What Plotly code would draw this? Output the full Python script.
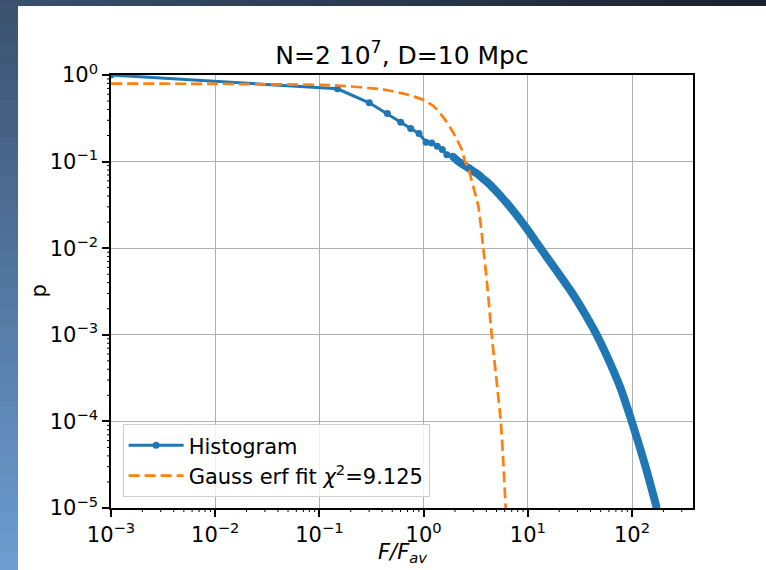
import math
import plotly.graph_objects as go

# Complementary cumulative distribution of F/F_av (binned histogram)
hist_x = [0.001, 0.149, 0.301, 0.449, 0.603, 0.751, 0.903, 1.055, 1.196, 1.353, 1.51, 1.67,
          1.90, 2.15, 2.40, 2.69, 3.00, 3.35, 3.74, 4.09, 5.41, 7.26, 10.0, 13.1, 17.6,
          22.8, 27.4, 36.7, 45.8, 57.1, 76.7, 99.3, 133.0, 172.6]
hist_p = [1.0, 0.692, 0.477, 0.359, 0.285, 0.241, 0.211, 0.167, 0.164, 0.150, 0.138, 0.120,
          0.115, 0.1007, 0.092, 0.0846, 0.0773, 0.0708, 0.063, 0.0577, 0.0407, 0.0269, 0.0162, 0.0102, 0.00617,
          0.00398, 0.00288, 0.00162, 0.0010, 5.75e-4, 2.51e-4, 1.0e-4, 3.16e-5, 1.0e-5]

# Gaussian erf fit
fit_x = [0.001, 0.01, 0.1, 0.149, 0.41, 0.69, 1.0, 1.25, 1.56, 1.93, 2.32, 2.50, 2.69, 2.90,
         3.35, 3.74, 4.09, 4.50, 5.50, 5.82, 6.13]
fit_p = [0.795, 0.79, 0.77, 0.756, 0.68, 0.595, 0.515, 0.436, 0.32, 0.215, 0.138, 0.10, 0.0846, 0.0592,
         0.0304, 0.01, 0.0036, 1.0e-3, 1.0e-4, 3.3e-5, 1.0e-5]

x_ticks = [1e-3, 1e-2, 1e-1, 1e0, 1e1, 1e2]
x_labels = ["10<sup>\u22123</sup>", "10<sup>\u22122</sup>", "10<sup>\u22121</sup>",
            "10<sup>0</sup>", "10<sup>1</sup>", "10<sup>2</sup>"]
y_ticks = [1e-5, 1e-4, 1e-3, 1e-2, 1e-1, 1e0]
y_labels = ["10<sup>\u22125</sup>", "10<sup>\u22124</sup>", "10<sup>\u22123</sup>",
            "10<sup>\u22122</sup>", "10<sup>\u22121</sup>", "10<sup>0</sup>"]

X_RANGE = [-3, 2.585]
Y_RANGE = [-5, 0]

BLUE = "#1f77b4"
ORANGE = "#ff7f0e"
FONT = "DejaVu Sans"

W, H = 766, 570
L, R, T, B = 111, 73, 75, 62
PW, PH = W - L - R, H - T - B


def px_to_paper(px, py):
    return (px - L) / PW, (H - B - py) / PH


def minor_positions(lo_exp, hi_exp):
    return [m * 10.0 ** e for e in range(lo_exp, hi_exp) for m in range(2, 10)]


fig = go.Figure()

# densely packed bins form a continuous band
dense = [(x, p) for x, p in zip(hist_x, hist_p) if x >= 1.9]
fig.add_trace(go.Scatter(
    x=[d[0] for d in dense], y=[d[1] for d in dense], mode="lines",
    line=dict(color=BLUE, width=8, shape="spline", smoothing=0.8),
    showlegend=False, hoverinfo="skip"))

fig.add_trace(go.Scatter(
    x=hist_x, y=hist_p, mode="lines+markers", name="Histogram",
    line=dict(color=BLUE, width=3), marker=dict(color=BLUE, size=7)))

fig.add_trace(go.Scatter(
    x=fit_x, y=fit_p, mode="lines", name="Gauss erf fit <i>\u03c7</i><sup>2</sup>=9.125",
    line=dict(color=ORANGE, width=2.7, dash="11px,5px", shape="spline", smoothing=0.6)))

axis_common = dict(
    type="log", ticks="outside", ticklen=7, tickwidth=1.5, tickcolor="black",
    showline=True, linecolor="black", linewidth=1.5, mirror=True,
    showgrid=True, gridcolor="#b0b0b0", gridwidth=1.3, zeroline=False,
    tickfont=dict(family=FONT, size=21, color="black"),
)
fig.update_xaxes(range=X_RANGE, tickvals=x_ticks, ticktext=x_labels, **axis_common)
fig.update_yaxes(range=Y_RANGE, tickvals=y_ticks, ticktext=y_labels, **axis_common)

shapes = []

# minor log ticks on the bottom and left axes
MINOR_LEN = 4
for v in minor_positions(-3, 3):
    lv = math.log10(v)
    if X_RANGE[0] < lv < X_RANGE[1]:
        xp = (lv - X_RANGE[0]) / (X_RANGE[1] - X_RANGE[0])
        shapes.append(dict(type="line", xref="paper", yref="paper", x0=xp, x1=xp,
                           y0=0, y1=-MINOR_LEN / PH, line=dict(color="black", width=1)))
for v in minor_positions(-5, 0):
    lv = math.log10(v)
    yp = (lv - Y_RANGE[0]) / (Y_RANGE[1] - Y_RANGE[0])
    shapes.append(dict(type="line", xref="paper", yref="paper", x0=0, x1=-MINOR_LEN / PW,
                       y0=yp, y1=yp, line=dict(color="black", width=1)))

# framed backdrop: dark band along the top, blue gradient strip on the left
n = 30
top_h = 6
left_w = 18
for i in range(n):
    t = i / (n - 1)
    c = (int(58 + (26 - 58) * t), int(80 + (34 - 80) * t), int(110 + (48 - 110) * t))
    x0, y0 = px_to_paper(W * i / n, 0)
    x1, y1 = px_to_paper(W * (i + 1) / n + 1, top_h)
    shapes.append(dict(type="rect", xref="paper", yref="paper", x0=x0, x1=x1, y0=y0, y1=y1,
                       fillcolor="rgb(%d,%d,%d)" % c, line=dict(width=0), layer="below"))
for i in range(n):
    t = i / (n - 1)
    c = (int(60 + (108 - 60) * t), int(84 + (156 - 84) * t), int(114 + (208 - 114) * t))
    x0, y0 = px_to_paper(0, top_h + (H - top_h) * i / n)
    x1, y1 = px_to_paper(left_w, top_h + (H - top_h) * (i + 1) / n + 1)
    shapes.append(dict(type="rect", xref="paper", yref="paper", x0=x0, x1=x1, y0=y0, y1=y1,
                       fillcolor="rgb(%d,%d,%d)" % c, line=dict(width=0), layer="below"))

xl_x, xl_y = px_to_paper(0, 553)
yl_x, yl_y = px_to_paper(38, 0)

fig.update_layout(
    width=W, height=H,
    margin=dict(l=L, r=R, t=T, b=B, autoexpand=False),
    paper_bgcolor="white", plot_bgcolor="white",
    font=dict(family=FONT, color="black"),
    title=dict(text="N=2 10<sup>7</sup>, D=10 Mpc", x=(L + PW / 2) / W, xanchor="center",
               y=1 - 55 / H, yanchor="middle", font=dict(family=FONT, size=25, color="black")),
    shapes=shapes,
    annotations=[
        dict(text="<i>F/F<sub>av</sub></i>", xref="paper", yref="paper", x=0.5, y=xl_y,
             xanchor="center", yanchor="middle", showarrow=False,
             font=dict(family=FONT, size=21, color="black")),
        dict(text="p", xref="paper", yref="paper", x=yl_x, y=0.5, textangle=-90,
             xanchor="center", yanchor="middle", showarrow=False,
             font=dict(family=FONT, size=21, color="black")),
    ],
    legend=dict(x=0.02, y=0.025, xanchor="left", yanchor="bottom",
                bgcolor="rgba(255,255,255,0.8)", bordercolor="#cccccc", borderwidth=1,
                font=dict(family=FONT, size=21, color="black"), itemwidth=55,
                tracegroupgap=0),
    showlegend=True,
)

fig.write_html("out.html")
